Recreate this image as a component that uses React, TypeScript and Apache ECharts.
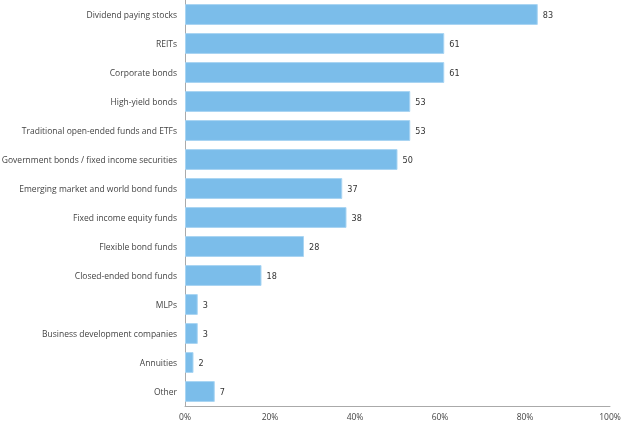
import React, { useEffect, useRef } from "react";
import * as echarts from "echarts";

const categories = [
  "Dividend paying stocks",
  "REITs",
  "Corporate bonds",
  "High-yield bonds",
  "Traditional open-ended funds and ETFs",
  "Government bonds / fixed income securities",
  "Emerging market and world bond funds",
  "Fixed income equity funds",
  "Flexible bond funds",
  "Closed-ended bond funds",
  "MLPs",
  "Business development companies",
  "Annuities",
  "Other",
];
const values = [83, 61, 61, 53, 53, 50, 37, 38, 28, 18, 3, 3, 2, 7];
const xTicks = [0, 20, 40, 60, 80, 100];

export default function App() {
  const ref = useRef<HTMLDivElement>(null);
  useEffect(() => {
    const chart = echarts.init(ref.current!, null, { renderer: "svg" });
    chart.setOption({
      animation: false,
      grid: {
        left: 185,
        right: 12,
        top: 0,
        bottom: 18,
        containLabel: false,
        outerBoundsMode: "none",
      },
      xAxis: {
        type: "value",
        min: xTicks[0],
        max: xTicks[xTicks.length - 1],
        interval: 20,
        axisLine: { show: true, lineStyle: { color: "#aaaaaa", width: 1 } },
        axisTick: { show: false },
        splitLine: { show: false },
        axisLabel: {
          formatter: (v: number) => v + "%",
          color: "#444444",
          fontSize: 8.5,
          fontFamily: "Open Sans",
          margin: 6,
        },
      },
      yAxis: {
        type: "category",
        data: categories,
        inverse: true,
        axisLine: { show: true, lineStyle: { color: "#aaaaaa", width: 1 } },
        axisTick: { show: false },
        axisLabel: {
          color: "#444444",
          fontSize: 8.5,
          fontFamily: "Open Sans",
          margin: 8,
        },
      },
      series: [
        {
          type: "bar",
          data: values,
          barCategoryGap: "28%",
          itemStyle: {
            color: "#7bbdea",
            borderColor: "#a9d5f3",
            borderWidth: 1,
          },
          label: {
            show: true,
            position: "right",
            distance: 5,
            color: "#333333",
            fontSize: 9,
            fontFamily: "'DejaVu Sans Condensed', 'Liberation Sans Narrow', Roboto, sans-serif",
          },
        },
      ],
    });
    return () => chart.dispose();
  }, []);
  return (
    <div
      ref={ref}
      style={{ position: "fixed", left: 0, top: 0, width: 622, height: 424 }}
    />
  );
}
